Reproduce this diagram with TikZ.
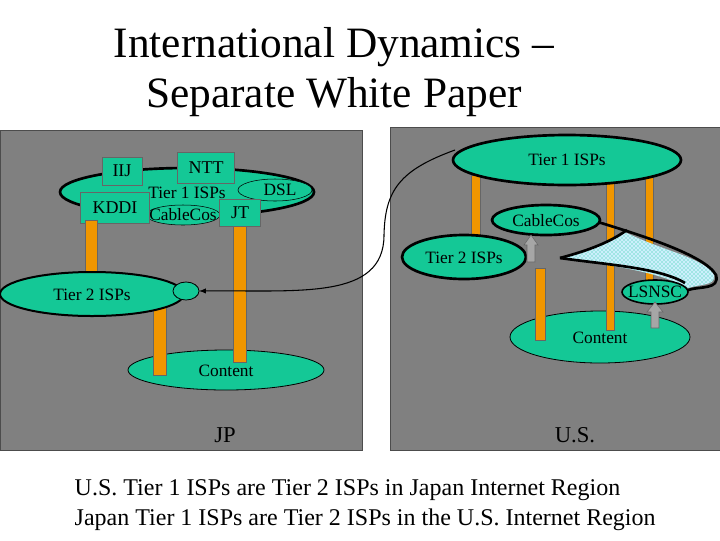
\documentclass[tikz,border=0pt]{standalone}
\usepackage{fontspec}
\setmainfont{Liberation Serif}
\usetikzlibrary{patterns}
\definecolor{tealc}{RGB}{20,200,150}
\definecolor{pil}{RGB}{240,150,0}
\begin{document}
\begin{tikzpicture}[x=0.75pt,y=-0.75pt,
  el/.style={fill=tealc,draw=black,line width=2pt},
  elthin/.style={fill=tealc,draw=black,line width=0.6pt},
  box/.style={fill=tealc,draw=black!60,line width=0.6pt,inner sep=1pt,font=\fontsize{13.5}{14}\selectfont},
  lab/.style={font=\fontsize{13}{14}\selectfont},
  pillar/.style={fill=pil,draw=black!60,line width=0.4pt},
  gray arrow/.style={fill=gray!70,draw=black!60}]
\useasboundingbox (0,0) rectangle (720,540);
\fill[white] (0,0) rectangle (720,540);
\node[font=\fontsize{32.5}{37}\selectfont,align=center] (title) at (334,72) {International Dynamics --\\Separate White Paper};
% panels
\fill[gray] (0,130) rectangle (362,450);
\draw[black!70] (0,130) rectangle (362,450);
\fill[gray] (390,127) rectangle (720,450);
\draw[black!70] (390,127) rectangle (720,450);
% LEFT
\draw[elthin] (226,370) ellipse (98 and 20);
\node[lab] (lcontent) at (226,371) {Content};
\draw[pillar] (233,218) rectangle (246,362);
\draw[pillar] (153,300) rectangle (166,375);
\draw[el] (187,192) ellipse (127 and 24);
\node[lab] (lt1) at (187,193) {Tier 1 ISPs};
\draw[elthin,line width=0.4pt] (275,190) ellipse (37 and 11);
\node[lab] (ldsl) at (280,190) {DSL};
\draw[elthin,line width=0.4pt] (183,215) ellipse (37 and 10);
\node[lab] (lcc) at (183,215) {CableCos};
\node[box,minimum width=30,minimum height=21] (iij) at (122,171) {IIJ};
\node[box,minimum width=43,minimum height=23] (ntt) at (206,168) {NTT};
\node[box,minimum width=52,minimum height=23] (kddi) at (115,208) {KDDI};
\node[box,minimum width=31,minimum height=20] (jt) at (240,213) {JT};
\draw[pillar] (85,220) rectangle (97,283);
\draw[el,line width=1.5pt] (92,294) ellipse (92 and 22);
\node[lab] (lt2) at (92,295) {Tier 2 ISPs};
\draw[elthin] (186,291) ellipse (13 and 9);
\coordinate (lsmall) at (199,291);
% RIGHT
\draw[elthin] (600,337) ellipse (90 and 26);
\node[lab] (rcontent) at (600,338) {Content};
\draw[pillar] (471,175) rectangle (480,245);
\draw[pillar] (606,178) rectangle (614,330);
\draw[pillar] (645,175) rectangle (653,280);
\draw[pillar] (535,268) rectangle (545,340);
\draw[el] (567,160) ellipse (114 and 25);
\node[lab] (rt1) at (567,160) {Tier 1 ISPs};
\coordinate (rt1w) at (455,150);
\fill[cyan!20!white] (560,258) .. controls (590,250) and (610,242) .. (625,232)
  .. controls (660,250) and (705,258) .. (714,275) .. controls (716,286) and (700,284) .. (688,288)
  .. controls (660,272) and (610,265) .. cycle;
\fill[pattern=crosshatch dots,pattern color=tealc] (560,258) .. controls (590,250) and (610,242) .. (625,232)
  .. controls (660,250) and (705,258) .. (714,275) .. controls (716,286) and (700,284) .. (688,288)
  .. controls (660,272) and (610,265) .. cycle;
\draw[line width=2pt] (560,258) .. controls (590,250) and (610,242) .. (627,230);
\draw[line width=2pt] (598,222) .. controls (640,235) and (705,255) .. (716,275) .. controls (720,290) and (700,286) .. (688,290);
\draw[line width=2pt] (560,258) .. controls (610,265) and (660,268) .. (685,283);
\draw[el] (546,220) ellipse (54 and 15);
\node[lab] (rcc) at (546,221) {CableCos};
\draw[el] (464,257) ellipse (62 and 22);
\node[lab] (rt2) at (464,258) {Tier 2 ISPs};
\draw[elthin,line width=1.2pt] (655,292) ellipse (33 and 12);
\node[lab] (lsnsc) at (655,292) {LSNSC};
\draw[gray arrow] (527,262) -- (527,245) -- (524,245) -- (531,235) -- (538,245) -- (535,245) -- (535,262) -- cycle;
\draw[gray arrow] (651,328) -- (651,312) -- (647,312) -- (655,302) -- (663,312) -- (659,312) -- (659,328) -- cycle;
% connector
\draw[-latex,line width=0.8pt] (rt1w) .. controls (400,170) and (385,190) .. (384,235)
  .. controls (384,300) and (300,290) .. (lsmall);
% labels
\node[font=\fontsize{17}{19}\selectfont] (jp) at (225,435) {JP};
\node[font=\fontsize{17}{19}\selectfont] (us) at (575,435) {U.S.};
\node[font=\fontsize{18}{22}\selectfont,align=left,anchor=west] (cap) at (70,505) {U.S. Tier 1 ISPs are Tier 2 ISPs in Japan Internet Region\\Japan Tier 1 ISPs are Tier 2 ISPs in the U.S. Internet Region};
\end{tikzpicture}
\end{document}
